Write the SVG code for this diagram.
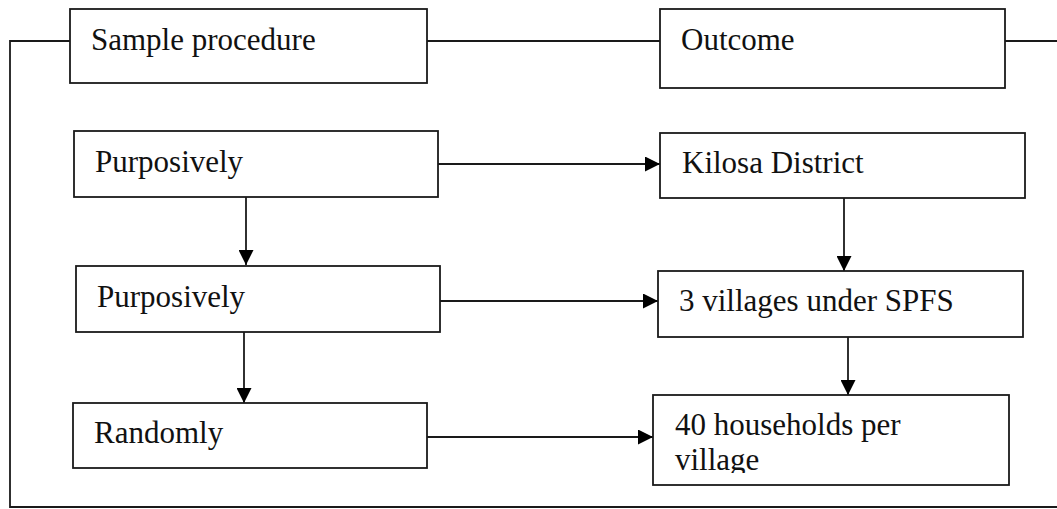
<svg xmlns="http://www.w3.org/2000/svg" width="1057" height="509" viewBox="0 0 1057 509">
<style>
.box{fill:#fff;stroke:#1a1a1a;stroke-width:1.8}
.t{font-family:"Liberation Serif","Times New Roman",serif;font-size:31px;fill:#111}
.ln{fill:none;stroke:#1a1a1a;stroke-width:1.8}
</style>
<defs>
<marker id="ah" markerUnits="userSpaceOnUse" markerWidth="15" markerHeight="15" viewBox="0 0 15 15" refX="15" refY="7.5" orient="auto">
<path d="M0,0 L15,7.5 L0,15 Z" fill="#000"/>
</marker>
<clipPath id="c40"><rect x="653" y="395" width="356" height="78"/></clipPath>
</defs>
<g id="connectors">
<path class="ln" d="M70,41 H10 V507 H1057"/>
<path class="ln" d="M427,41 H660"/>
<path class="ln" d="M1005,41 H1057"/>
<path class="ln" d="M438,164 H660" marker-end="url(#ah)"/>
<path class="ln" d="M440,301 H658" marker-end="url(#ah)"/>
<path class="ln" d="M427,437 H653" marker-end="url(#ah)"/>
<path class="ln" d="M246,197 V265" marker-end="url(#ah)"/>
<path class="ln" d="M244,332 V403" marker-end="url(#ah)"/>
<path class="ln" d="M844,198 V271" marker-end="url(#ah)"/>
<path class="ln" d="M848,337 V395" marker-end="url(#ah)"/>
</g>
<g id="sample-procedure"><rect class="box" x="70" y="9" width="357" height="74"/><text class="t" x="91" y="50">Sample procedure</text></g>
<g id="outcome"><rect class="box" x="660" y="9" width="345" height="79"/><text class="t" x="681" y="50">Outcome</text></g>
<g id="purposively-1"><rect class="box" x="74" y="131" width="364" height="66"/><text class="t" x="95" y="172">Purposively</text></g>
<g id="kilosa"><rect class="box" x="660" y="133" width="365" height="65"/><text class="t" x="682" y="173">Kilosa District</text></g>
<g id="purposively-2"><rect class="box" x="76" y="266" width="364" height="66"/><text class="t" x="97" y="307">Purposively</text></g>
<g id="villages"><rect class="box" x="658" y="271" width="365" height="66"/><text class="t" x="679" y="311">3 villages under SPFS</text></g>
<g id="randomly"><rect class="box" x="73" y="403" width="354" height="65"/><text class="t" x="94" y="443">Randomly</text></g>
<g id="households"><rect class="box" x="653" y="395" width="356" height="90"/><text class="t" x="675" y="435" clip-path="url(#c40)">40 households per<tspan x="675" y="470">village</tspan></text></g>
</svg>
